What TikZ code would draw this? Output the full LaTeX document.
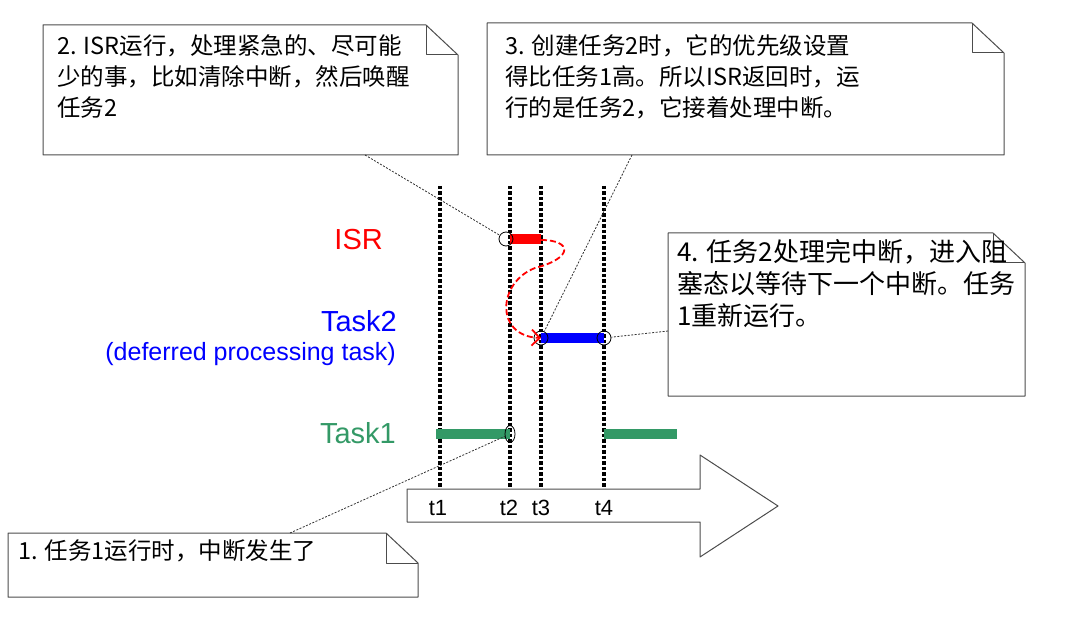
\documentclass[tikz,border=0pt]{standalone}
\usepackage{fontspec}
\setmainfont{Liberation Sans}
\newfontfamily\cjk{Noto Sans CJK SC}
\usepackage{tikz}
\usetikzlibrary{arrows.meta, shapes.geometric}

\definecolor{taskgreen}{RGB}{51,153,102}

% note outline with a folded top-right corner: x1, y1, x2, y2
\newcommand{\notebox}[4]{%
  \draw[noteline] (#1,#2) -- (#3-32,#2) -- (#3,#2+30) -- (#3,#4) -- (#1,#4) -- cycle;
  \draw[noteline] (#3-32,#2) -- (#3-32,#2+30) -- (#3,#2+30);}

\begin{document}
\begin{tikzpicture}[x = 1pt, y = -1pt,
    noteline/.style = { draw = black!70, line width = 1pt, line join = round },
    notetext/.style = { anchor = north west, inner sep = 0pt, align = left,
                        font = \cjk\fontsize{23.5}{31}\selectfont },
    callout/.style = { draw = black!80, line width = .8pt, dash pattern = on 2pt off 1.5pt },
    timeline/.style = { line width = 3.5pt, dash pattern = on 3.5pt off 2pt },
    ringmark/.style = { draw, circle, minimum size = 14pt, inner sep = 0pt, line width = .8pt },
    bar/.style = { line width = 10pt },
    label/.style = { anchor = base east, inner sep = 0pt, font = \fontsize{29}{34}\selectfont },
    tick/.style = { anchor = base, inner sep = 0pt, font = \fontsize{22}{26}\selectfont }]
  \useasboundingbox (0,0) rectangle (1066,628);

  % time lines
  \foreach \t in {440, 510, 541, 604}
    \draw[timeline] (\t,186) -- (\t,489);

  % time arrow
  \draw[noteline, fill = white] (407,489) -- (700,489) -- (700,455) -- (778,506)
    -- (700,557) -- (700,522) -- (407,522) -- cycle;
  \node[tick] (t1) at (438,515) {t1};
  \node[tick] (t2) at (509,515) {t2};
  \node[tick] (t3) at (541,515) {t3};
  \node[tick] (t4) at (604,515) {t4};

  % rows
  \node[label, red] (isr) at (383,250) {ISR};
  \node[label, blue] (task2) at (397,332) {Task2};
  \node[label, blue, font = \fontsize{25}{30}\selectfont] (deferred) at (396,360)
    {(deferred processing task)};
  \node[label, taskgreen] (task1) at (396,443) {Task1};

  \draw[bar, red] (510,239) -- (541,239);
  \draw[bar, blue] (541,338) -- (604,338);
  \draw[bar, taskgreen] (436,434) -- (510,434);
  \draw[bar, taskgreen] (604,434) -- (677,434);

  \node[ringmark] (isrc) at (506,239) {};
  \node[ringmark] (t2a) at (541,338) {};
  \node[ringmark] (t2b) at (604,338) {};
  \node[draw, ellipse, minimum width = 10pt, minimum height = 17pt, inner sep = 0pt,
        line width = .8pt] (t1int) at (510,434) {};
  \coordinate (isrend) at (541,240);

  % switch from ISR to task 2
  \draw[red, line width = 1.8pt, dash pattern = on 6pt off 3pt,
        -{Straight Barb[length = 8pt, width = 16pt]}]
    (isrend) .. controls (572,240) and (574,258) .. (535,268)
    .. controls (498,282) and (494,336) .. (t2a.center);

  % notes
  \notebox{43}{25}{458}{155}
  \node[notetext] (n2) at (57,34) {2. ISR运行，处理紧急的、尽可能\\少的事，比如清除中断，然后唤醒\\任务2};
  \notebox{487}{23}{1004}{155}
  \node[notetext] (n3) at (505,34) {3. 创建任务2时，它的优先级设置\\得比任务1高。所以ISR返回时，运\\行的是任务2，它接着处理中断。};
  \notebox{668}{233}{1025}{396}
  \node[notetext, font = \cjk\fontsize{26}{32}\selectfont] (n4) at (677,239) {4. 任务2处理完中断，进入阻\\塞态以等待下一个中断。任务\\1重新运行。};
  \notebox{8}{533}{418}{597}
  \node[notetext] (n1) at (18,539) {1. 任务1运行时，中断发生了};

  \coordinate (n2tail) at (365,155);
  \coordinate (n3tail) at (632,155);
  \coordinate (n4tail) at (668,331);
  \coordinate (n1tail) at (290,533);
  \draw[callout] (n2tail) -- (isrc);
  \draw[callout] (n3tail) -- (t2a);
  \draw[callout] (n4tail) -- (t2b);
  \draw[callout] (n1tail) -- (t1int);
\end{tikzpicture}
\end{document}
